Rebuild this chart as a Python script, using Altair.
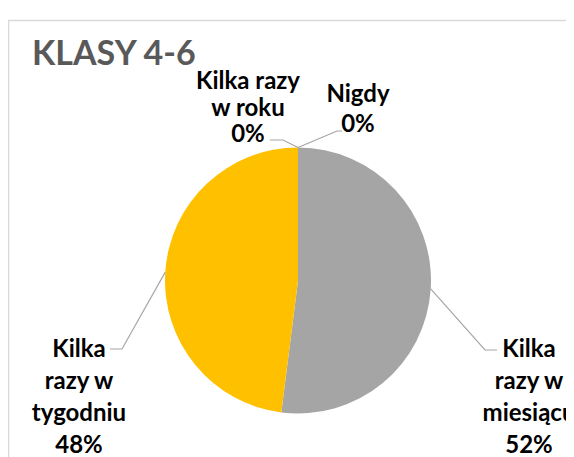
import altair as alt
import pandas as pd
import numpy as np

# ---- data ----
categories = ["Nigdy", "Kilka razy w miesiącu", "Kilka razy w tygodniu", "Kilka razy w roku"]
percent = [0, 52, 48, 0]
colors = ["#5B9BD5", "#A5A5A5", "#FFC000", "#ED7D31"]
name_lines = [["Nigdy"], ["Kilka", "razy w", "miesiącu"], ["Kilka", "razy w", "tygodniu"], ["Kilka razy", "w roku"]]
title_text = "KLASY 4-6"

# ---- layout (pixels, chart coordinates) ----
W, H = 558, 449
CX, CY, R = 290, 272.5, 133
FONT = "Lato"
label_layout = {  # x center, first baseline, line height
    "Nigdy": (350, 94, 30),
    "Kilka razy w miesiącu": (521, 349, 32),
    "Kilka razy w tygodniu": (71, 349, 32),
    "Kilka razy w roku": (240, 81, 26.5),
}
leader_layout = {  # elbow, end
    "Nigdy": ((329, 123), (334, 123)),
    "Kilka razy w miesiącu": ((477, 342), (489, 342)),
    "Kilka razy w tygodniu": ((114, 341), (102, 341)),
    "Kilka razy w roku": ((275, 132), (262, 132)),
}

df = pd.DataFrame({"category": categories, "percent": percent, "idx": range(len(categories))})

arc = alt.Chart(df).mark_arc(outerRadius=R).encode(
    theta=alt.Theta("percent:Q", stack=True),
    order=alt.Order("idx:Q"),
    color=alt.Color("category:N", scale=alt.Scale(domain=categories, range=colors), legend=None),
    x=alt.value(CX),
    y=alt.value(CY),
)

# leader lines: start on the pie edge at each slice's mid angle
vals = np.array(percent, dtype=float)
cum = np.cumsum(vals) - vals / 2
ang = cum / vals.sum() * 2 * np.pi
rows = []
for i, c in enumerate(categories):
    sx = CX + R * np.sin(ang[i])
    sy = CY - R * np.cos(ang[i])
    (ex1, ey1), (ex2, ey2) = leader_layout[c]
    for k, (px, py) in enumerate([(sx, sy), (ex1, ey1), (ex2, ey2)]):
        rows.append({"category": c, "step": k, "px": px, "py": py})
ldf = pd.DataFrame(rows)

leaders = alt.Chart(ldf).mark_line(color="#A6A6A6", strokeWidth=1.2).encode(
    x=alt.X("px:Q", scale=None, axis=None),
    y=alt.Y("py:Q", scale=None, axis=None),
    detail="category:N",
    order="step:Q",
)

layers = [arc, leaders]
for i, c in enumerate(categories):
    lx, ly, lh = label_layout[c]
    txt = "\n".join(name_lines[i] + [f"{percent[i]}%"])
    tdf = pd.DataFrame({"t": [txt]})
    layers.append(
        alt.Chart(tdf).mark_text(
            font=FONT, fontSize=24, fontWeight="bold", color="#000000",
            align="center", baseline="alphabetic", lineBreak="\n", lineHeight=lh,
        ).encode(x=alt.value(lx), y=alt.value(ly), text="t:N")
    )

title = alt.Chart(pd.DataFrame({"t": [title_text]})).mark_text(
    font=FONT, fontSize=34, fontWeight="bold", color="#595959",
    align="left", baseline="alphabetic",
).encode(x=alt.value(24), y=alt.value(57), text="t:N")

frame = alt.Chart(pd.DataFrame({"a": [0]})).mark_rect(
    fillOpacity=0, stroke="#D9D9D9", strokeWidth=1.5,
).encode(x=alt.value(0.5), x2=alt.value(W + 20), y=alt.value(12.5), y2=alt.value(H + 20))

chart = alt.layer(frame, *layers, title).properties(
    width=W, height=H, padding=0, autosize=alt.AutoSizeParams(type="none"),
).configure_view(stroke=None)

chart.save("out.html", embed_options={"renderer": "svg", "actions": False})
